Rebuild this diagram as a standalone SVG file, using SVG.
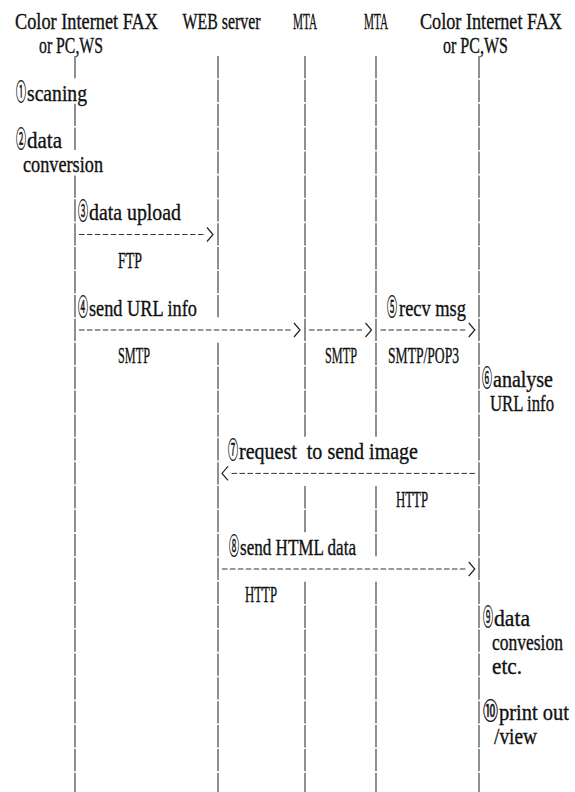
<svg xmlns="http://www.w3.org/2000/svg" width="575" height="792" viewBox="0 0 575 792">
<style>
.t{font-family:"Liberation Serif","Noto Sans CJK JP",serif;font-size:23px;fill:#111;stroke:#111;stroke-width:0.35;}
.c{font-family:"Noto Sans CJK JP",sans-serif;font-size:23px;stroke:#111;stroke-width:0.5;}
.life{stroke:#333;stroke-width:1.1;stroke-dasharray:22.3 1.6;fill:none;}
.msg{stroke:#333;stroke-width:1;stroke-dasharray:5.5 2.43;fill:none;marker-end:url(#chev);}
</style>
<defs>
<marker id="chev" markerUnits="userSpaceOnUse" viewBox="0 0 12 18" markerWidth="12" markerHeight="18" refX="0" refY="9" orient="auto" overflow="visible">
<path d="M2,2 L8,9 L2,16" fill="none" stroke="#222" stroke-width="1.2" stroke-dasharray="none"/>
</marker>
</defs>
<rect width="575" height="792" fill="#fff"/>

<g id="sender">
<text class="t" x="15" y="28.8" textLength="143" lengthAdjust="spacingAndGlyphs">Color Internet FAX</text>
<text class="t" x="39" y="52.7" textLength="64" lengthAdjust="spacingAndGlyphs">or PC,WS</text>
<line class="life" x1="75" y1="55.9" x2="75" y2="78.2"/>
<line class="life" x1="75" y1="103.7" x2="75" y2="149.9"/>
<line class="life" x1="75" y1="175.4" x2="75" y2="792"/>
<text class="t" x="16" y="100.5"><tspan class="c" dy="-1" textLength="10" lengthAdjust="spacingAndGlyphs">①</tspan><tspan x="27" dy="1" textLength="60" lengthAdjust="spacingAndGlyphs">scaning</tspan></text>
<text class="t" x="16" y="148.3"><tspan class="c" dy="-1" textLength="10" lengthAdjust="spacingAndGlyphs">②</tspan><tspan x="27" dy="1" textLength="35" lengthAdjust="spacingAndGlyphs">data</tspan></text>
<text class="t" x="23" y="172.2" textLength="80" lengthAdjust="spacingAndGlyphs">conversion</text>
</g>

<g id="web-server">
<text class="t" x="182.5" y="28.8" textLength="78" lengthAdjust="spacingAndGlyphs">WEB server</text>
<line class="life" x1="218" y1="55.9" x2="218" y2="317.2"/>
<line class="life" x1="218" y1="342.7" x2="218" y2="792"/>
</g>

<g id="mta1">
<text class="t" x="293" y="28.8" textLength="24" lengthAdjust="spacingAndGlyphs">MTA</text>
<line class="life" x1="305" y1="55.9" x2="305" y2="436.7"/>
<line class="life" x1="305" y1="486.1" x2="305" y2="532.3"/>
<line class="life" x1="305" y1="581.7" x2="305" y2="792"/>
</g>

<g id="mta2">
<text class="t" x="364" y="28.8" textLength="24" lengthAdjust="spacingAndGlyphs">MTA</text>
<line class="life" x1="376" y1="55.9" x2="376" y2="436.7"/>
<line class="life" x1="376" y1="486.1" x2="376" y2="556.2"/>
<line class="life" x1="376" y1="581.7" x2="376" y2="792"/>
</g>

<g id="receiver">
<text class="t" x="420" y="28.8" textLength="142" lengthAdjust="spacingAndGlyphs">Color Internet FAX</text>
<text class="t" x="443" y="52.7" textLength="65" lengthAdjust="spacingAndGlyphs">or PC,WS</text>
<line class="life" x1="479" y1="55.9" x2="479" y2="792"/>
<text class="t" x="482" y="387.3"><tspan class="c" dy="-1" textLength="10" lengthAdjust="spacingAndGlyphs">⑥</tspan><tspan x="493" dy="1" textLength="60" lengthAdjust="spacingAndGlyphs">analyse</tspan></text>
<text class="t" x="490" y="411.2" textLength="64" lengthAdjust="spacingAndGlyphs">URL info</text>
<text class="t" x="483" y="626.3"><tspan class="c" dy="-1" textLength="10" lengthAdjust="spacingAndGlyphs">⑨</tspan><tspan x="494" dy="1" textLength="36" lengthAdjust="spacingAndGlyphs">data</tspan></text>
<text class="t" x="492" y="650.2" textLength="71" lengthAdjust="spacingAndGlyphs">convesion</text>
<text class="t" x="492" y="673.5" textLength="30" lengthAdjust="spacingAndGlyphs">etc.</text>
<text class="t" x="483" y="719.5"><tspan class="c" dy="-1" textLength="15" lengthAdjust="spacingAndGlyphs">⑩</tspan><tspan x="499" dy="1" textLength="70" lengthAdjust="spacingAndGlyphs">print out</tspan></text>
<text class="t" x="494" y="743.5" textLength="43" lengthAdjust="spacingAndGlyphs">/view</text>
</g>

<g id="connectors">
<g id="upload">
<line class="msg" x1="79" y1="234.5" x2="205" y2="234.5"/>
<text class="t" x="78" y="220"><tspan class="c" dy="-1" textLength="10" lengthAdjust="spacingAndGlyphs">③</tspan><tspan x="89" dy="1" textLength="92" lengthAdjust="spacingAndGlyphs">data upload</tspan></text>
<text class="t" x="118" y="267.8" textLength="24" lengthAdjust="spacingAndGlyphs">FTP</text>
</g>
<g id="send-url">
<line class="msg" x1="79" y1="330" x2="292" y2="330"/>
<line class="msg" x1="309" y1="330" x2="363.5" y2="330"/>
<line class="msg" x1="380.5" y1="330" x2="466.8" y2="330"/>
<text class="t" x="78" y="315.6"><tspan class="c" dy="-1" textLength="10" lengthAdjust="spacingAndGlyphs">④</tspan><tspan x="89" dy="1" textLength="108" lengthAdjust="spacingAndGlyphs">send URL info</tspan></text>
<text class="t" x="387" y="315.6"><tspan class="c" dy="-1" textLength="10" lengthAdjust="spacingAndGlyphs">⑤</tspan><tspan x="399" dy="1" textLength="67" lengthAdjust="spacingAndGlyphs">recv msg</tspan></text>
<text class="t" x="118" y="363.4" textLength="32" lengthAdjust="spacingAndGlyphs">SMTP</text>
<text class="t" x="325" y="363.4" textLength="32" lengthAdjust="spacingAndGlyphs">SMTP</text>
<text class="t" x="388" y="363.4" textLength="71" lengthAdjust="spacingAndGlyphs">SMTP/POP3</text>
</g>
<g id="request">
<line class="msg" x1="475" y1="473.4" x2="230" y2="473.4"/>
<text class="t" x="228" y="459" xml:space="preserve"><tspan class="c" dy="-1" textLength="10" lengthAdjust="spacingAndGlyphs">⑦</tspan><tspan x="239" dy="1" textLength="179" lengthAdjust="spacingAndGlyphs">request  to send image</tspan></text>
<text class="t" x="396" y="506.8" textLength="32" lengthAdjust="spacingAndGlyphs">HTTP</text>
</g>
<g id="send-html">
<line class="msg" x1="222" y1="569" x2="466.8" y2="569"/>
<text class="t" x="229" y="554.6"><tspan class="c" dy="-1" textLength="10" lengthAdjust="spacingAndGlyphs">⑧</tspan><tspan x="240" dy="1" textLength="116" lengthAdjust="spacingAndGlyphs">send HTML data</tspan></text>
<text class="t" x="245" y="602.4" textLength="32" lengthAdjust="spacingAndGlyphs">HTTP</text>
</g>
</g>
</svg>
